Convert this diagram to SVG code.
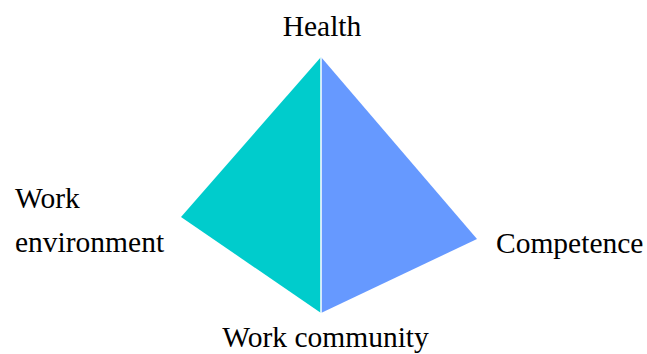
<svg xmlns="http://www.w3.org/2000/svg" width="647" height="354" viewBox="0 0 647 354">
<style>
text{font-family:"Liberation Serif","Times New Roman",serif;font-size:29.5px;fill:#000}
</style>
<rect width="647" height="354" fill="#fff"/>
<g id="left-face"><polygon points="321,57 181,217 321,313" fill="#00CCCC"/></g>
<g id="right-face"><polygon points="321,57 477,239 321,313" fill="#6699FF"/></g>
<g id="connectors"><line x1="321" y1="57" x2="321" y2="313" stroke="#fff" stroke-width="1.5"/></g>
<g id="health"><text x="322" y="36" text-anchor="middle">Health</text></g>
<g id="competence"><text x="496" y="253">Competence</text></g>
<g id="work-environment"><text x="15" y="208">Work</text><text x="15" y="252">environment</text></g>
<g id="work-community"><text x="325.5" y="347" text-anchor="middle">Work community</text></g>
</svg>
